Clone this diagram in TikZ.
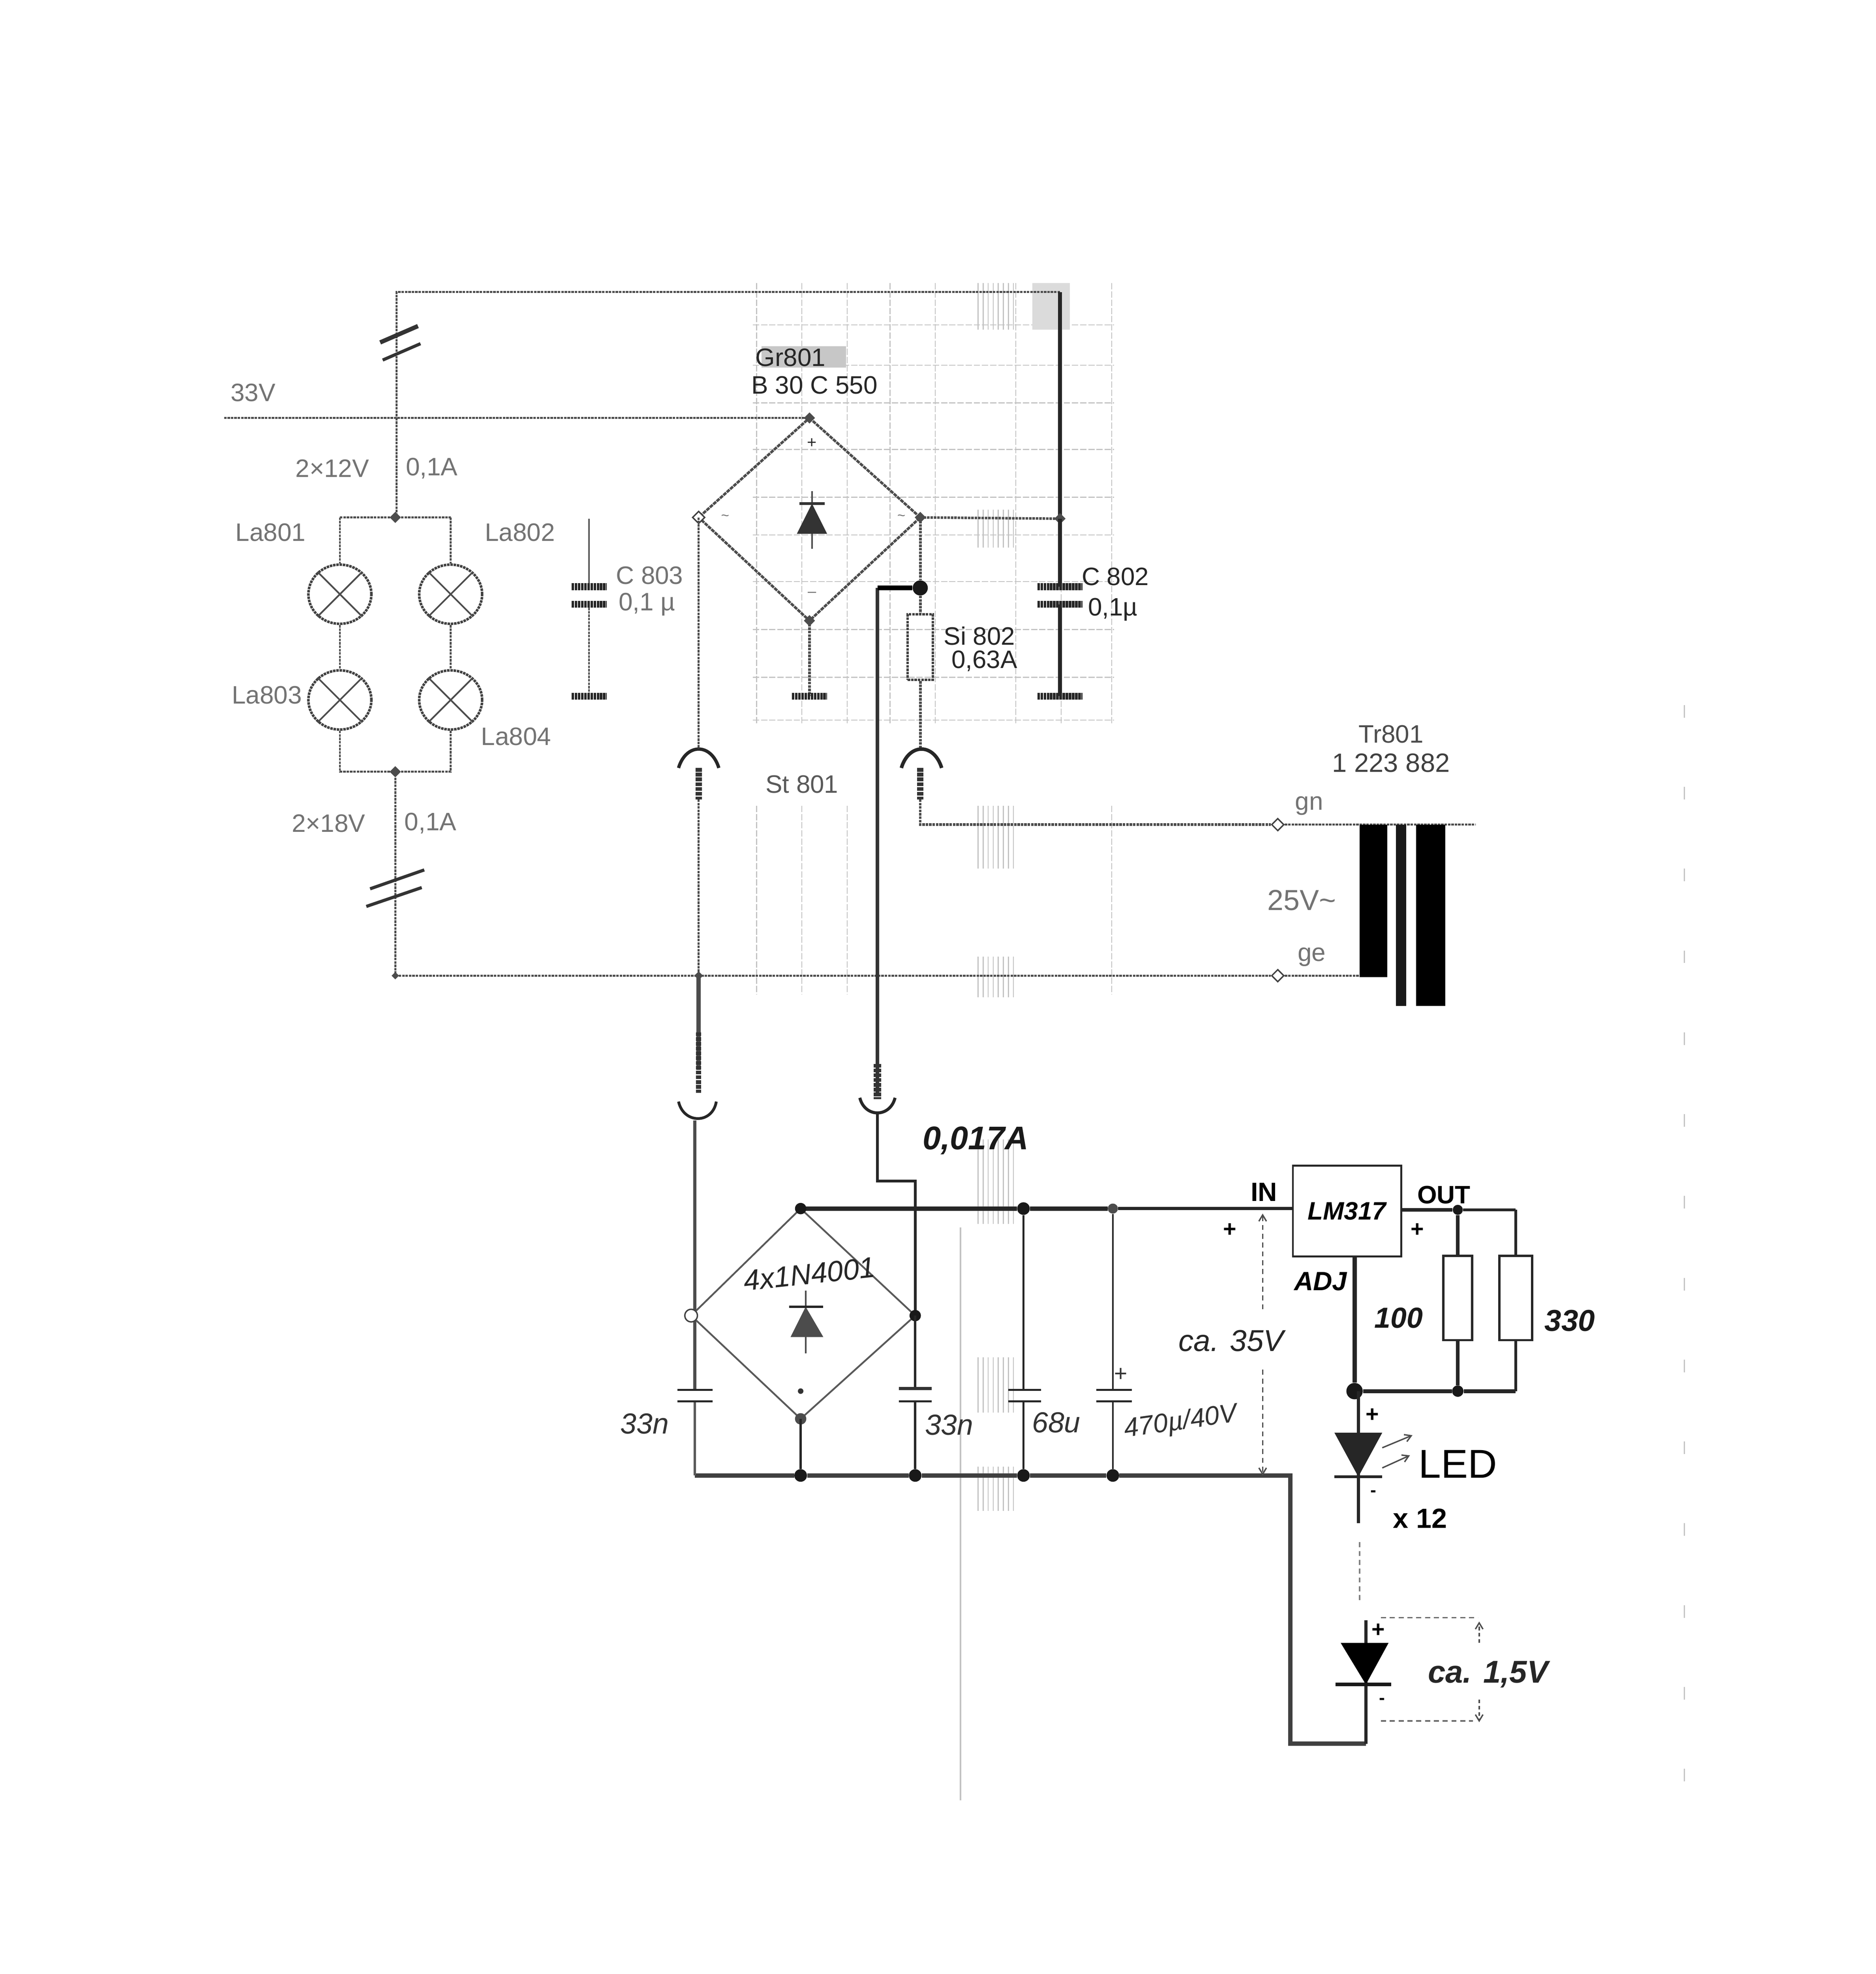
\documentclass[tikz,border=0pt]{standalone}
\usepackage{fontspec}
\setmainfont{Liberation Sans}
\usetikzlibrary{arrows.meta,shapes.geometric}
\definecolor{scan}{gray}{0.30}
\definecolor{faint}{gray}{0.76}
\tikzset{
  wirethin/.style={draw=scan,line width=1.5pt,dash pattern=on 2pt off 0.7pt},
  pinbar/.style={draw=black!80,line width=5pt,dash pattern=on 3pt off 0.8pt},
  wirenew/.style={draw=black!85,line width=1.8pt},
  wirebus/.style={draw=black!85,line width=3.4pt},
  plate/.style={draw=black!80,line width=3.4pt},
  platethin/.style={draw=black!85,line width=1.6pt},
  plateheavy/.style={draw=black!85,line width=5.5pt,dash pattern=on 2pt off 0.5pt},
  gridl/.style={draw=faint,line width=0.7pt,dash pattern=on 5pt off 1.5pt},
  hatch/.style={draw=faint,line width=0.8pt},
  dimline/.style={draw=black!60,line width=1.1pt,dash pattern=on 4pt off 3pt},
  junc/.style={diamond,fill=black!70,inner sep=0pt,minimum size=9pt},
  jbig/.style={circle,fill=black!90,inner sep=0pt,minimum size=10pt},
  openj/.style={diamond,draw=black!75,fill=white,line width=1.1pt,inner sep=0pt,minimum size=10pt},
  lamp/.style={ellipse,draw=black!75,line width=2pt,dash pattern=on 2pt off 0.6pt,inner sep=0pt,minimum width=50pt,minimum height=47pt},
  lampx/.style={draw=black!70,line width=1.3pt},
  oldlabel/.style={font=\fontsize{20}{22}\selectfont,text=black!55,inner sep=0pt},
  olddark/.style={font=\fontsize{20}{22}\selectfont,text=black!85,inner sep=0pt},
  hand/.style={font=\fontsize{23}{25}\selectfont\itshape,text=black!85,inner sep=0pt},
  handbold/.style={font=\fontsize{26}{28}\selectfont\bfseries\itshape,text=black!90,inner sep=0pt},
  handsmall/.style={font=\fontsize{23}{25}\selectfont\itshape,text=black!80,inner sep=0pt},
  fuse/.style={rectangle,draw=black!75,line width=2pt,dash pattern=on 2pt off 0.7pt,minimum width=20pt,minimum height=52pt,inner sep=0pt},
  resbox/.style={rectangle,draw=black!85,line width=1.8pt,fill=white,minimum width=23pt,minimum height=67pt,inner sep=0pt},
  regbox/.style={rectangle,draw=black!85,line width=1.5pt,fill=white,minimum width=86pt,minimum height=72pt,inner sep=0pt},
  arrowdim/.style={-{Straight Barb[length=5pt,width=6pt]}},
}
\begin{document}
\begin{tikzpicture}[x=1pt,y=-1pt]
\useasboundingbox (0,0) rectangle (1490,1568);
\fill[white] (0,0) rectangle (1490,1568);
% scan artefacts
\foreach \gx in {601,637,673,707,743,807,843,883}{\draw[gridl] (\gx,225) -- (\gx,575);}
\foreach \gy in {258,290,320,357,395,425,462,500,538,572}{\draw[gridl] (598,\gy) -- (885,\gy);}
\foreach \gx in {601,637,673,883}{\draw[gridl] (\gx,640) -- (\gx,790);}
\foreach \hy/\hb in {405/435,640/690,760/792,905/972,1078/1122,1165/1200,225/262}{
  \foreach \hx in {777,781,785,789,793,797,801,805}{\draw[hatch] (\hx,\hy) -- (\hx,\hb);}
}
\fill[black!22] (605,275) rectangle (672,292);
\fill[black!14] (820,225) rectangle (850,262);
\draw[faint,line width=1pt] (763,975) -- (763,1430);
\draw[faint,line width=1pt,dash pattern=on 10pt off 55pt] (1338,560) -- (1338,1425);

% named points, upper sheet
\coordinate (tl) at (315,232);
\coordinate (tr) at (842,232);
\coordinate (feedw) at (178,332);
\coordinate (feedj) at (315,332);
\coordinate (feedb) at (315,411);
\coordinate (br1t) at (643,332);
\coordinate (br1l) at (555,411);
\coordinate (br1r) at (731,411);
\coordinate (br1b) at (643,493);
\coordinate (crj) at (842,412);
\coordinate (lbarL) at (270,411);
\coordinate (lbarR) at (358,411);
\coordinate (bbarL) at (270,613);
\coordinate (bbarR) at (358,613);
\node[junc] (ja) at (314,411) {};
\node[junc] (jb) at (314,613) {};
\coordinate (retL) at (314,775);
\coordinate (retJ) at (555,775);
\node[lamp] (la1) at (270,472) {};
\node[lamp] (la2) at (358,472) {};
\node[lamp] (la3) at (270,556) {};
\node[lamp] (la4) at (358,556) {};
\foreach \l in {la1,la2,la3,la4}{
  \draw[lampx] (\l.45) -- (\l.225);
  \draw[lampx] (\l.135) -- (\l.315);
}
% top wires
\draw[wirethin] (feedj) -- (feedb);
\draw[wirethin] (tr) -- (tl) -- (feedj);
\draw[draw=black!85,line width=3pt] (tr) -- (crj);
\draw[wirethin] (feedw) -- (br1t);
\draw[wirethin] (lbarL) -- (lbarR);
\draw[wirethin] (lbarL) -- (la1);
\draw[wirethin] (lbarR) -- (la2);
\draw[wirethin] (la1) -- (la3);
\draw[wirethin] (la2) -- (la4);
\draw[wirethin] (la3) -- (bbarL) -- (bbarR) -- (la4);
\draw[wirethin] (jb) -- (retL);
% break marks
\coordinate (m1a) at (302,272); \coordinate (m1b) at (332,259);
\coordinate (m2a) at (304,286); \coordinate (m2b) at (334,273);
\draw[plate] (m1a) -- (m1b);
\draw[plate,line width=2.5pt] (m2a) -- (m2b);
\coordinate (m3a) at (294,706); \coordinate (m3b) at (337,691);
\coordinate (m4a) at (291,720); \coordinate (m4b) at (335,705);
\draw[plate,line width=2.5pt] (m3a) -- (m3b);
\draw[plate,line width=2.5pt] (m4a) -- (m4b);
% C803
\coordinate (c3t) at (468,412);
\coordinate (c3p1) at (468,466);
\coordinate (c3p2) at (468,480);
\coordinate (c3b) at (468,553);
\draw[draw=black!65,line width=1.2pt] (c3t) -- (c3p1);
\draw[wirethin,line width=1.2pt] (c3p2) -- (c3b);
\draw[plateheavy] (454,466) -- (482,466);
\draw[plateheavy] (454,480) -- (482,480);
\draw[plateheavy] (454,553) -- (482,553);
% bridge 1
\draw[draw=black!70,line width=2pt,dash pattern=on 3pt off 0.6pt] (br1t) -- (br1r) -- (br1b) -- (br1l) -- cycle;
\node[junc] at (br1t) {};
\node[junc] at (br1r) {};
\node[junc] at (br1b) {};
\node[openj] at (br1l) {};
\coordinate (d1a) at (645,390);
\coordinate (d1b) at (645,436);
\draw[draw=black!70,line width=1.2pt] (d1a) -- (d1b);
\fill[black!80] (633,424) -- (657,424) -- (645,400) -- cycle;
\draw[draw=black!80,line width=2pt] (635,400) -- (655,400);
% ground of bridge 1
\coordinate (g1) at (643,553);
\draw[wirethin,line width=2pt] (br1b) -- (g1);
\draw[plateheavy] (629,553) -- (657,553);
% right branch
\draw[wirethin,line width=2pt] (br1r) -- (crj);
\node[junc] at (crj) {};
\node[jbig,minimum size=12pt] (jf) at (731,467) {};
\node[fuse] (fu) at (731,514) {};
\coordinate (sr) at (731,596);
\draw[wirethin,line width=2.2pt] (br1r) -- (jf);
\draw[wirethin,line width=2.2pt] (jf) -- (fu);
\draw[wirethin,line width=2.2pt] (fu) -- (sr);
% C802
\coordinate (c2p1) at (842,466);
\coordinate (c2p2) at (842,480);
\coordinate (c2b) at (842,553);
\draw[draw=black!85,line width=3pt] (crj) -- (c2p1);
\draw[draw=black!85,line width=3pt] (c2p2) -- (c2b);
\draw[plateheavy] (824,466) -- (860,466);
\draw[plateheavy] (824,480) -- (860,480);
\draw[plateheavy] (824,553) -- (860,553);
% sockets upper
\draw[draw=black!85,line width=2.8pt] (716,610) .. controls (722,590) and (742,590) .. (748,610);
\draw[draw=black!85,line width=2.6pt] (539,610) .. controls (545,590) and (565,590) .. (571,610);
\coordinate (pl1) at (555,610); \coordinate (pl2) at (555,635);
\coordinate (pr1) at (731,610); \coordinate (pr2) at (731,635);
\draw[pinbar] (pl1) -- (pl2);
\draw[pinbar] (pr1) -- (pr2);
\draw[wirethin] (br1l) -- (555,595);
% trafo wires
\node[openj] (gn) at (1015,655) {};
\node[openj] (ge) at (1015,775) {};
\coordinate (trt) at (1172,655);
\coordinate (trb) at (1085,775);
\draw[wirethin,line width=2pt] (pr2) -- (731,655) -- (gn);
\draw[wirethin,line width=1.6pt] (gn) -- (trt);
\draw[wirethin,line width=1.6pt] (retL) -- (ge);
\draw[wirethin,line width=1.4pt] (ge) -- (trb);
\draw[wirethin] (pl2) -- (retJ);
\node[junc,minimum size=7pt] at (retJ) {};
\node[junc,minimum size=6pt] at (retL) {};
% transformer core
\fill[black] (1080,655) rectangle (1102,776);
\fill[black!90] (1109,655) rectangle (1117,799);
\fill[black] (1125,655) rectangle (1148,799);

% lower sheet
\coordinate (sockL) at (552,890);
\coordinate (sockR) at (697,885);
\coordinate (brkA) at (697,938);
\coordinate (brkB) at (727,938);
\coordinate (br2t) at (636,960);
\coordinate (br2l) at (549,1045);
\coordinate (br2r) at (727,1045);
\coordinate (br2b) at (636,1127);
\coordinate (cLa) at (552,1104);
\coordinate (cLb) at (552,1113);
\node[jbig] (jc1) at (813,960) {};
\node[jbig,fill=black!70,minimum size=8pt] (jc2) at (884,960) {};
\node[jbig] (jb0) at (636,1172) {};
\node[jbig] (jb1) at (727,1172) {};
\node[jbig] (jb2) at (813,1172) {};
\node[jbig] (jb3) at (884,1172) {};
\coordinate (bL) at (552,1172);
\coordinate (bC) at (1025,1172);
\coordinate (bD) at (1025,1385);
\coordinate (bE) at (1085,1385);
\node[regbox,align=center,font=\fontsize{20}{22}\selectfont\itshape\bfseries] (reg) at (1070,962) {LM317};
% thick wires between the sheets
\draw[draw=black!80,line width=3pt] (697,467) -- (697,870);
\draw[draw=black,line width=3.6pt] (jf) -- (697,467);
\draw[pinbar,line width=6pt] (697,845) -- (697,873);
\draw[wirebus,draw=black!70] (retJ) -- (555,850);
\draw[pinbar,line width=4pt] (555,820) -- (555,868);
\draw[draw=black!85,line width=2.2pt] (539,875) .. controls (543,893) and (566,893) .. (569,875);
\draw[draw=black!85,line width=2.4pt] (683,872) .. controls (687,888) and (707,888) .. (711,872);
\draw[draw=black!70,line width=2.4pt] (sockL) -- (cLa);
\draw[draw=black!85,line width=2.2pt] (sockR) -- (brkA) -- (brkB) -- (br2r);
% buses
\draw[wirebus] (br2t) -- (jc1) -- (jc2);
\draw[draw=black!85,line width=2.4pt] (jc2) -- (reg.west |- jc2);
\draw[wirebus,draw=black!75] (bL) -- (jb0) -- (jb1) -- (jb2) -- (jb3) -- (bC) -- (bD) -- (bE);
% bridge 2
\draw[draw=black!65,line width=1.4pt] (br2t) -- (br2r) -- (br2b) -- (br2l) -- cycle;
\node[jbig,minimum size=9pt] at (br2t) {};
\node[openj,circle,minimum size=10pt] at (br2l) {};
\node[jbig,minimum size=9pt] at (br2r) {};
\node[jbig,minimum size=9pt,fill=black!70] at (br2b) {};
\fill[black!80] (636,1105) circle (2.2pt);
\draw[wirenew] (br2b) -- (jb0);
\coordinate (d2a) at (640,1025);
\coordinate (d2b) at (640,1075);
\draw[draw=black!70,line width=1.2pt] (d2a) -- (d2b);
\fill[black!70] (628,1062) -- (654,1062) -- (640,1038) -- cycle;
\draw[draw=black!85,line width=2pt] (627,1038) -- (654,1038);
% capacitors
\draw[wirenew,draw=black!65] (bL) -- (cLb);
\draw[platethin] (538,1104) -- (566,1104);
\draw[platethin] (538,1113) -- (566,1113);
\draw[wirenew] (jb1) -- (727,1113);
\draw[draw=black!85,line width=1.8pt] (br2r) -- (727,1104);
\draw[plate,line width=2.4pt] (714,1103) -- (740,1103);
\draw[platethin] (714,1113) -- (740,1113);
\draw[wirenew,line width=1.4pt] (jc1) -- (813,1104);
\draw[wirenew,line width=1.4pt] (813,1113) -- (jb2);
\draw[platethin] (801,1104) -- (827,1104);
\draw[platethin] (801,1113) -- (827,1113);
\draw[wirenew,line width=1.2pt] (jc2) -- (884,1104);
\draw[wirenew,line width=1.2pt] (884,1113) -- (jb3);
\draw[platethin] (871,1104) -- (899,1104);
\draw[platethin] (871,1113) -- (899,1113);
% regulator outputs
\node[jbig,minimum size=8pt] (jo) at (1158,961) {};
\coordinate (otr) at (1204,961);
\node[resbox] (r1) at (1158,1031) {};
\node[resbox,minimum width=26pt] (r2) at (1204,1031) {};
\node[jbig,minimum size=13pt] (jadj) at (1076,1105) {};
\node[jbig,minimum size=9pt] (jr1) at (1158,1105) {};
\coordinate (ob) at (1204,1105);
\coordinate (adjt) at (1076,998);
\draw[draw=black!85,line width=3pt] (reg.east |- jo) -- (jo);
\draw[draw=black!85,line width=2.4pt] (jo) -- (otr);
\draw[draw=black!85,line width=2.8pt] (jo) -- (r1);
\draw[draw=black!85,line width=2.4pt] (otr) -- (r2);
\draw[draw=black!85,line width=2.8pt] (r1) -- (jr1);
\draw[draw=black!85,line width=2.4pt] (r2) -- (ob);
\draw[draw=black!85,line width=3.4pt] (adjt) -- (jadj);
\draw[draw=black!85,line width=3.2pt] (jadj) -- (jr1) -- (ob);
% LEDs
\coordinate (led1b) at (1079,1210);
\coordinate (led1t) at (1079,1105);
\draw[draw=black!85,line width=2.6pt] (led1t) -- (led1b);
\fill[black!85] (1060,1138) -- (1098,1138) -- (1079,1173) -- cycle;
\draw[draw=black!85,line width=2pt] (1060,1173) -- (1098,1173);
\draw[arrowdim,draw=black!70,line width=1.1pt] (1098,1150) -- (1122,1140);
\draw[arrowdim,draw=black!70,line width=1.1pt] (1098,1166) -- (1120,1156);
\coordinate (dots1) at (1080,1225);
\coordinate (dots2) at (1080,1272);
\draw[dimline,draw=black!50] (dots1) -- (dots2);
\coordinate (led2t) at (1085,1287);
\draw[draw=black!85,line width=2.6pt] (led2t) -- (bE);
\fill[black] (1065,1305) -- (1103,1305) -- (1085,1338) -- cycle;
\draw[draw=black!90,line width=2.8pt] (1061,1338) -- (1105,1338);
% dimension arrows
\coordinate (v1t) at (1003,964);
\coordinate (v1a) at (1003,1040);
\coordinate (v1b) at (1003,1088);
\coordinate (v1e) at (1003,1172);
\draw[dimline,arrowdim,draw=black!70] (v1a) -- (v1t);
\draw[dimline,arrowdim,draw=black!70] (v1b) -- (v1e);
\coordinate (v2a) at (1097,1285);
\coordinate (v2b) at (1174,1285);
\coordinate (v2c) at (1097,1367);
\coordinate (v2d) at (1170,1367);
\draw[dimline] (v2a) -- (v2b);
\draw[dimline] (v2c) -- (v2d);
\draw[arrowdim,draw=black!70,line width=1.1pt,dash pattern=on 3pt off 2pt] (1175,1305) -- (1175,1288);
\draw[arrowdim,draw=black!70,line width=1.1pt,dash pattern=on 3pt off 2pt] (1175,1350) -- (1175,1368);

% labels, upper sheet
\node[oldlabel] (t33) at (201,312) {33V};
\node[oldlabel] (t12) at (264,372) {2×12V};
\node[oldlabel] (t1a) at (343,372) {0,1A};
\node[oldlabel] (tl1) at (215,423) {La801};
\node[oldlabel] (tl2) at (413,423) {La802};
\node[oldlabel] (tl3) at (212,552) {La803};
\node[oldlabel] (tl4) at (410,585) {La804};
\node[oldlabel] (tc3a) at (516,457) {C 803};
\node[oldlabel] (tc3b) at (514,480) {0,1 µ};
\node[olddark] (tgr) at (628,284) {Gr801};
\node[olddark] (tb) at (647,306) {B 30 C 550};
\node[olddark,font=\fontsize{13}{14}\selectfont] (tp1) at (645,352) {+};
\node[oldlabel,font=\fontsize{11}{12}\selectfont] (ttl) at (576,411) {\char"007E};
\node[oldlabel,font=\fontsize{11}{12}\selectfont] (ttr) at (716,411) {\char"007E};
\node[oldlabel,font=\fontsize{12}{14}\selectfont] (tm1) at (645,472) {–};
\node[olddark] (ts2) at (778,505) {Si 802};
\node[olddark] (ts3) at (782,525) {0,63A};
\node[olddark] (tc2a) at (886,458) {C 802};
\node[olddark] (tc2b) at (884,484) {0,1µ};
\node[oldlabel,text=black!65] (tst) at (637,623) {St 801};
\node[oldlabel,text=black!70] (ttr1) at (1105,583) {Tr801};
\node[oldlabel,text=black!75,font=\fontsize{21}{22}\selectfont] (ttr2) at (1105,606) {1 223 882};
\node[oldlabel] (tgn) at (1040,640) {gn};
\node[oldlabel,font=\fontsize{23}{24}\selectfont] (t25) at (1034,715) {25V\char"007E};
\node[oldlabel] (tge) at (1042,760) {ge};
\node[oldlabel] (t18) at (261,654) {2×18V};
\node[oldlabel] (t1b) at (342,654) {0,1A};
% labels, lower sheet
\node[handbold] (t017) at (775,906) {0,017A};
\node[hand,rotate=6] (t4x) at (643,1012) {4x1N4001};
\node[handsmall] (tc33a) at (512,1131) {33n};
\node[handsmall] (tc33b) at (754,1132) {33n};
\node[handsmall] (tc68) at (839,1130) {68u};
\node[handsmall,rotate=8,font=\fontsize{21}{23}\selectfont\itshape] (tc470) at (938,1130) {470µ/40V};
\node[handsmall,font=\fontsize{18}{20}\selectfont\itshape] (tcp) at (890,1092) {+};
\node[font=\fontsize{21}{22}\selectfont\bfseries,inner sep=0pt] (tin) at (1004,947) {IN};
\node[font=\fontsize{20}{22}\selectfont\bfseries,inner sep=0pt] (tout) at (1147,949) {OUT};
\node[font=\fontsize{18}{18}\selectfont\bfseries,inner sep=0pt] (tpi) at (977,977) {+};
\node[font=\fontsize{18}{18}\selectfont\bfseries,inner sep=0pt] (tpo) at (1126,977) {+};
\node[font=\fontsize{21}{22}\selectfont\bfseries\itshape,inner sep=0pt] (tadj) at (1049,1018) {ADJ};
\node[hand,font=\fontsize{24}{26}\selectfont\itshape] (t35) at (978,1065) {ca. 35V};
\node[handbold,font=\fontsize{23}{26}\selectfont\itshape\bfseries] (t100) at (1111,1047) {100};
\node[handbold,font=\fontsize{24}{26}\selectfont\itshape\bfseries] (t330) at (1247,1049) {330};
\node[font=\fontsize{18}{18}\selectfont\bfseries,inner sep=0pt] (tlp1) at (1090,1124) {+};
\node[font=\fontsize{14}{18}\selectfont\bfseries,inner sep=0pt] (tlm1) at (1091,1186) {-};
\node[font=\fontsize{32}{34}\selectfont,inner sep=0pt] (tled) at (1158,1163) {LED};
\node[font=\fontsize{22}{24}\selectfont\bfseries,inner sep=0pt] (tx12) at (1128,1206) {x 12};
\node[font=\fontsize{18}{18}\selectfont\bfseries,inner sep=0pt] (tlp2) at (1095,1295) {+};
\node[font=\fontsize{14}{18}\selectfont\bfseries,inner sep=0pt] (tlm2) at (1098,1351) {-};
\node[hand,font=\fontsize{25}{26}\selectfont\itshape\bfseries] (t15) at (1182,1330) {ca. 1,5V};
\end{tikzpicture}
\end{document}
